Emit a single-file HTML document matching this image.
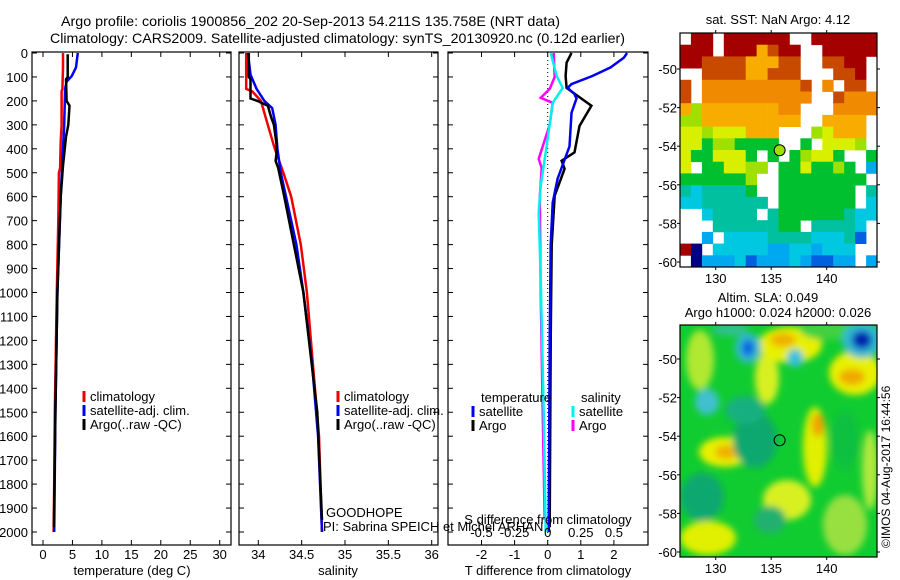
<!DOCTYPE html>
<html><head><meta charset="utf-8"><style>
html,body{margin:0;padding:0;background:#fff;}
svg{display:block;font-family:"Liberation Sans",sans-serif;}
text{font-size:13px;fill:#000;}
</style></head><body>
<svg id="fig" width="900" height="580" viewBox="0 0 900 580" xmlns="http://www.w3.org/2000/svg">
<defs>
<filter id="blur" x="-50%" y="-50%" width="200%" height="200%"><feGaussianBlur stdDeviation="3.5"/></filter>
<clipPath id="m2clip"><rect x="680" y="325" width="197" height="232"/></clipPath>
</defs>
<text x="61" y="26" textLength="499" lengthAdjust="spacingAndGlyphs" style="font-size:14px">Argo profile: coriolis 1900856_202 20-Sep-2013 54.211S 135.758E (NRT data)</text>
<text x="50" y="43" textLength="575" lengthAdjust="spacingAndGlyphs" style="font-size:14px">Climatology: CARS2009. Satellite-adjusted climatology: synTS_20130920.nc (0.12d earlier)</text>
<g id="plots"></g>
<g id="maps"></g>
<text x="326" y="517">GOODHOPE</text>
<text x="323" y="531">PI: Sabrina SPEICH et Michel ARHAN</text>
<text transform="translate(890,548) rotate(-90)" style="font-size:12px">©IMOS 04-Aug-2017 16:44:56</text>
</svg>
<script>
// ---------- profile data ----------
const tClimDepth=[0,60,150,160,300,370,480,500,700,1000,1200,1500,1800,2000];
const tClimVal=[3.4,3.4,3.3,3.15,3.15,3.0,2.9,2.7,2.6,2.35,2.2,2.0,1.9,1.8];
const tSatDepth=[0,60,95,120,150,300,450,600,1000,1500,2000];
const tSatVal=[5.9,5.6,4.9,4.0,3.75,3.6,3.3,3.0,2.45,2.1,1.9];
const tArgoDepth=[5,100,110,200,220,300,350,470,600,1000,1500,1980];
const tArgoVal=[4.2,4.2,3.9,4.0,4.5,4.3,3.9,3.4,3.0,2.45,2.1,1.85];
const sClimDepth=[0,150,160,200,300,400,500,600,800,1000,1300,1600,2000];
const sClimVal=[33.86,33.86,33.93,34.03,34.11,34.19,34.29,34.38,34.49,34.56,34.63,34.70,34.735];
const sSatDepth=[0,90,150,200,230,300,400,500,600,800,1000,1300,1600,2000];
const sSatVal=[33.88,33.91,33.98,34.07,34.16,34.20,34.22,34.26,34.32,34.44,34.52,34.62,34.69,34.735];
const sArgoDepth=[0,100,110,190,200,220,270,300,380,420,450,480,600,1000,1500,1950];
const sArgoVal=[33.89,33.89,33.91,33.91,33.99,34.11,34.15,34.18,34.21,34.21,34.20,34.23,34.30,34.52,34.68,34.735];
const dTSatDepth=[0,20,60,96,130,146,170,190,250,390,525,625,800,1200,2000];
const dTSatVal=[2.4,2.3,1.9,1.35,0.72,0.6,0.8,0.87,0.72,0.66,0.3,0.15,0.09,0.06,0.03];
const dTArgoDepth=[0,40,96,146,220,305,415,450,483,596,800,1200,1980];
const dTArgoVal=[0.72,0.57,0.54,0.57,1.32,0.96,0.81,0.42,0.51,0.21,0.12,0.09,0.06];
const dSSatDepth=[0,96,146,208,390,554,666,940,1500,2000];
const dSSatVal=[0.023,0.068,0.113,0.038,-0.008,-0.053,-0.068,-0.053,-0.03,-0.015];
const dSArgoDepth=[0,100,150,187,208,300,442,480,600,1000,1500,1950];
const dSArgoVal=[0.045,0.053,0.015,-0.053,0.038,0.015,-0.068,-0.045,-0.06,-0.053,-0.038,-0.023];
const depthTicks=[0,100,200,300,400,500,600,700,800,900,1000,1100,1200,1300,1400,1500,1600,1700,1800,1900,2000];
const tempTicks=[0,5,10,15,20,25,30];
const salTicks=[34,34.5,35,35.5,36];
const dTTicks=[-2,-1,0,1,2];
const dSTicks=[-0.5,-0.25,0,0.25,0.5];
// ---------- SST map (codes) ----------
const sstRows=[
".RR.RRRRRR..RRRRRR",
"RRR.RRROrRR..RRRRR",
"RRrrrrOOOrr..rrRR.",
"..rrrrOOrrr...rrR.",
"r.ooooooooor.o.rr.",
"r.oooooooooo..rooo",
"OgOOOOOOOoo...oooo",
"ggOOOOOOOOO..OOOO.",
"yygyyyOOO...gyOOO.",
"yyGggGGGG..G.yyyg.",
"yGGyyyG.G.GgyyG..G",
"y.GGyygg.GGyGGgG.b",
"GGGGGGg..GGGGGGGG.",
"tcttttG..GGGGGGG.t",
"cctttttt.GGGGGGG.c",
"..ctttt.tGGGGGGtcc",
"...ttttttGG.ttttc.",
"..b.ccccttttccctB.",
"RN.cccccbbccbccc..",
".NbbbcBbbbcbBBbb.b"];
const sstColors={R:"#a40000",r:"#c84a00",o:"#f08a00",O:"#f8ac00",y:"#d8f000",g:"#a0e000",G:"#00c030",t:"#00c0a0",c:"#00c8e0",b:"#00a8f0",B:"#0060e0",N:"#000080"};
const latTicks=[-50,-52,-54,-56,-58,-60];
const lonTicks=[130,135,140];
const argoLon=135.758, argoLat=-54.211;

const NS="http://www.w3.org/2000/svg";
function mk(tag,attrs,parent){const e=document.createElementNS(NS,tag);for(const k in attrs)e.setAttribute(k,attrs[k]);parent.appendChild(e);return e;}
const plots=document.getElementById('plots');
const yD=d=>53+d*0.2395;
const PT=52, PB=545;
function panel(name,x0,x1,xs,ticks,tickFmt,labelY){
  const g=mk('g',{},plots);
  
  
  const r=mk('rect',{x:x0,y:PT,width:x1-x0,height:PB-PT,fill:'none',stroke:'#000','stroke-width':1.2},g);
  
  
  ticks.forEach(t=>{const x=xs(t);
    mk('line',{x1:x,x2:x,y1:PT,y2:PT+5,stroke:'#000'},g);
    mk('line',{x1:x,x2:x,y1:PB,y2:PB-5,stroke:'#000'},g);
    if(labelY){const tx=mk('text',{x:x,y:labelY,'text-anchor':'middle'},g);tx.textContent=tickFmt(t);
      
      }
  });
  depthTicks.forEach(d=>{const y=yD(d);
    mk('line',{x1:x0,x2:x0+5,y1:y,y2:y,stroke:'#000'},g);
    mk('line',{x1:x1,x2:x1-5,y1:y,y2:y,stroke:'#000'},g);
  });
  return g;
}
function series(g,name,depths,vals,xs,color){
  const pts=depths.map((d,i)=>xs(vals[i]).toFixed(1)+','+yD(d).toFixed(1)).join(' ');
  const p=mk('polyline',{points:pts,fill:'none',stroke:color,'stroke-width':2.5},g);
  
  
}
function legend(g,x,y,items){
  items.forEach((it,i)=>{
    mk('line',{x1:x,x2:x,y1:y+i*14-10,y2:y+i*14+1,stroke:it[1],'stroke-width':3},g);
    const t=mk('text',{x:x+6,y:y+i*14},g);t.textContent=it[0];
    
    
  });
}
depthTicks.forEach(d=>{const t=mk('text',{x:28,y:yD(d)+5,'text-anchor':'end'},plots);t.textContent=d;
  
  });
const xT=t=>43+t*5.89;
const g1=panel('temperature-panel',32,231,xT,tempTicks,t=>t,559);
series(g1,'temp-climatology',tClimDepth,tClimVal,xT,'#f00000');
series(g1,'temp-satellite-adj',tSatDepth,tSatVal,xT,'#0000f0');
series(g1,'temp-argo',tArgoDepth,tArgoVal,xT,'#000');
legend(g1,84,401,[['climatology','#f00000'],['satellite-adj. clim.','#0000f0'],['Argo(..raw -QC)','#000']]);
let tt=mk('text',{x:132,y:575,'text-anchor':'middle'},plots);tt.textContent='temperature (deg C)';

const xS=s=>258.3+(s-34)*86.7;
const g2=panel('salinity-panel',239,438,xS,salTicks,t=>t,559);
series(g2,'sal-climatology',sClimDepth,sClimVal,xS,'#f00000');
series(g2,'sal-satellite-adj',sSatDepth,sSatVal,xS,'#0000f0');
series(g2,'sal-argo',sArgoDepth,sArgoVal,xS,'#000');
legend(g2,338,401,[['climatology','#f00000'],['satellite-adj. clim.','#0000f0'],['Argo(..raw -QC)','#000']]);
tt=mk('text',{x:338,y:575,'text-anchor':'middle'},plots);tt.textContent='salinity';

const xDT=v=>547.7+v*33.1;
const xDS=v=>547.7+v*132.4;
const g3=panel('difference-panel',448,648,xDT,dTTicks,t=>t,559);
mk('line',{x1:547.7,x2:547.7,y1:PT,y2:PB,stroke:'#000','stroke-dasharray':'1,3'},g3);
series(g3,'sal-diff-argo',dSArgoDepth,dSArgoVal,xDS,'#ff00ff');
series(g3,'sal-diff-satellite',dSSatDepth,dSSatVal,xDS,'#00f0f0');
series(g3,'temp-diff-argo',dTArgoDepth,dTArgoVal,xDT,'#000');
series(g3,'temp-diff-satellite',dTSatDepth,dTSatVal,xDT,'#0000f0');
dSTicks.forEach(v=>{const t=mk('text',{x:xDS(v),y:537,'text-anchor':'middle'},g3);t.textContent=v;
  });
tt=mk('text',{x:548,y:524,'text-anchor':'middle'},g3);tt.textContent='S difference from climatology';

tt=mk('text',{x:481,y:402},g3);tt.textContent='temperature';

tt=mk('text',{x:581,y:402},g3);tt.textContent='salinity';

legend(g3,473,416,[['satellite','#0000f0'],['Argo','#000']]);
legend(g3,573,416,[['satellite','#00f0f0'],['Argo','#ff00ff']]);
tt=mk('text',{x:548,y:575,'text-anchor':'middle'},plots);tt.textContent='T difference from climatology';


const maps=document.getElementById('maps');
function mapAxes(name,x0,y0,x1,y1,lat50,lat60){
  const g=mk('g',{},maps);
  
  
  const latY=l=>lat50+(l+50)/(-10)*(lat60-lat50);
  const lonX=l=>715.7+(l-130)*11.1;
  return {g,latY,lonX,frame(){
    mk('rect',{x:x0,y:y0,width:x1-x0,height:y1-y0,fill:'none',stroke:'#000','stroke-width':1.2},g);
    latTicks.forEach(l=>{const y=latY(l);
      mk('line',{x1:x0-3,x2:x0,y1:y,y2:y,stroke:'#000'},g);
      mk('line',{x1:x1,x2:x1+3,y1:y,y2:y,stroke:'#000'},g);
      const t=mk('text',{x:x0-3,y:y+5,'text-anchor':'end'},g);t.textContent=l;
      });
    lonTicks.forEach(l=>{const x=lonX(l);
      mk('line',{x1:x,x2:x,y1:y0-3,y2:y0,stroke:'#000'},g);
      mk('line',{x1:x,x2:x,y1:y1,y2:y1+3,stroke:'#000'},g);
      const t=mk('text',{x:x,y:y1+16,'text-anchor':'middle'},g);t.textContent=l;
      });
  }};
}
const m1=mapAxes('sst-map',680,33,877,267,69,262);
const cw=197/18, ch=234/20;
sstRows.forEach((row,r)=>{for(let c=0;c<row.length;c++){const k=row[c];if(k==='.')continue;
  const cell=mk('rect',{x:(680+c*cw).toFixed(1),y:(33+r*ch).toFixed(1),width:(cw+0.4).toFixed(1),height:(ch+0.4).toFixed(1),fill:sstColors[k]},m1.g);
  
  }});
m1.frame();
let c1=mk('circle',{cx:m1.lonX(argoLon),cy:m1.latY(argoLat),r:5.5,fill:'#a0e000',stroke:'#000','stroke-width':1},m1.g);

tt=mk('text',{x:778,y:24,'text-anchor':'middle'},m1.g);tt.textContent='sat. SST: NaN Argo: 4.12';

const m2=mapAxes('sla-map',680,325,877,557,359,552);
const slaG=mk('g',{'clip-path':'url(#m2clip)'},m2.g);
mk('rect',{x:680,y:325,width:197,height:232,fill:'#10cc30'},slaG);
const bl=mk('g',{filter:'url(#blur)'},slaG);
const blobs=[
[700,360,14,30,'#b0e830'],[767,378,12,26,'#d8f020'],[790,345,32,18,'#e8f000'],[783,340,13,7,'#f0b000'],
[855,373,26,22,'#e8f000'],[852,377,13,8,'#f0a800'],[815,447,12,40,'#e0f000'],[818,425,6,12,'#f0a000'],
[725,452,26,15,'#e8f000'],[727,452,12,7,'#f0b000'],[708,538,28,17,'#e0f000'],[787,500,24,20,'#d8f020'],
[755,440,22,28,'#10a870'],[702,497,22,24,'#10a870'],[745,410,20,14,'#18b080'],[870,470,8,40,'#b0e840'],
[830,330,30,10,'#40d040'],[770,520,16,14,'#20b070'],[845,440,14,30,'#10c040'],
[862,340,20,18,'#30b8d0'],[862,340,10,9,'#0020b0'],[748,348,13,15,'#30b8d0'],[748,348,6,8,'#0060e0'],
[795,358,8,9,'#30c0e0'],[707,402,12,13,'#40c0d0'],[730,330,18,6,'#30c090'],[845,525,22,30,'#98e040']];
blobs.forEach(b=>{const e=mk('ellipse',{cx:b[0],cy:b[1],rx:b[2],ry:b[3],fill:b[4]},bl);
  });
m2.frame();
let c2=mk('circle',{cx:m2.lonX(argoLon),cy:m2.latY(argoLat),r:5.5,fill:'none',stroke:'#000','stroke-width':1},m2.g);

tt=mk('text',{x:768,y:302,'text-anchor':'middle'},m2.g);tt.textContent='Altim. SLA: 0.049';

tt=mk('text',{x:778,y:317,'text-anchor':'middle'},m2.g);tt.textContent='Argo h1000: 0.024 h2000: 0.026';

</script>
</body></html>
